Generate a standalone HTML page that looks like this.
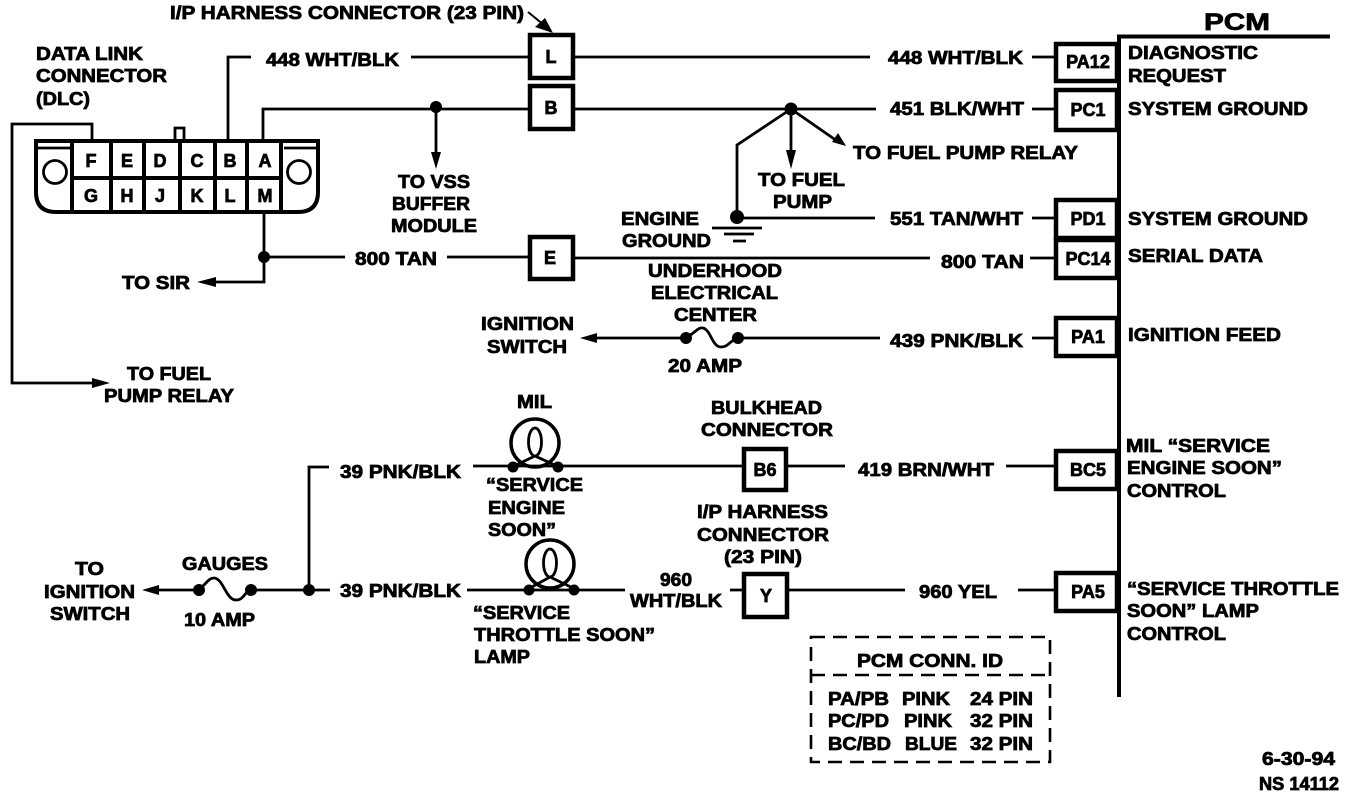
<!DOCTYPE html>
<html><head><meta charset="utf-8"><style>
html,body{margin:0;padding:0;background:#fff}
svg{display:block}
text{font-family:"Liberation Sans",sans-serif;font-weight:700;font-size:18px;fill:#000;stroke:#000;stroke-width:.75px}
.l{fill:none;stroke:#000;stroke-width:2.8}
.b{fill:none;stroke:#000;stroke-width:4}
.d{fill:#000}
</style></head><body>
<svg width="1360" height="796" viewBox="0 0 1360 796" xmlns="http://www.w3.org/2000/svg">
<rect width="1360" height="796" fill="#fff"/>
<!-- PCM bar -->
<path d="M1330 36.500H1119V697" fill="none" stroke="#000" stroke-width="4"/>
<!-- DLC -->
<path d="M36 141H318V192Q318 212 298 212H56Q36 212 36 192Z" fill="none" stroke="#000" stroke-width="4"/>
<path d="M36 148H72M284 148H318" class="l"/>
<path d="M72 141V212M111 141V212M144 141V212M180 141V212M215 141V212M247 141V212M281 141V212M72 178H281" class="b"/>
<circle cx="55" cy="172" r="11.500" class="l"/><circle cx="299" cy="172" r="11.500" class="l"/>
<path d="M175 140V128H184V140" class="l"/>
<!-- wires -->
<g class="l">
<path d="M228 140V57H251M411 57H529M574 57H870M1032 57H1056"/>
<path d="M263 140V109H529M574 109H876M1032 109H1056"/>
<path d="M436 107V160"/>
<path d="M791 109V160M791 109L840 143M791 109L737 145V217"/>
<path d="M737 218H875M1032 218H1056"/>
<path d="M712 228H762M724 234H754M733 241H746"/>
<path d="M264 212V257H345M447 257H529M574 258H930M1030 258H1056"/>
<path d="M264 257V282H205"/>
<path d="M92 140V124H12V383H95"/>
<path d="M590 338H686M686 338C696 332 698 327 703 328C711 330 712 347 721 347C729 347 730 340 738 338M738 338H880M1032 338H1056"/>
<path d="M473 466H742M786 466H845M1006 466H1056"/>
<path d="M329 467H309V590M309 590H330M309 590H251"/>
<path d="M467 590H625"/>
<path d="M730 590H743M787 590H905M1018 590H1056"/>
<path d="M152 590H198M198 590C207 584 208 578 214 578C223 578 226 600 236 600C244 600 244 592 251 590"/>
</g>
<path d="M528 12L550 30" fill="none" stroke="#000" stroke-width="2"/>
<path d="M553 33L535 27L545 18Z" fill="#000"/>
<!-- dots -->
<g class="d">
<circle cx="436" cy="107" r="6"/><circle cx="791" cy="109" r="6.500"/><circle cx="737" cy="217" r="7"/><circle cx="264" cy="257" r="6"/>
<circle cx="686" cy="338" r="6"/><circle cx="738" cy="338" r="6"/>
<circle cx="513" cy="467" r="5.500"/><circle cx="558" cy="467" r="5.500"/><circle cx="529" cy="590" r="5.500"/><circle cx="574" cy="590" r="5.500"/>
<circle cx="309" cy="590" r="6"/><circle cx="199" cy="590" r="6"/><circle cx="251" cy="590" r="6"/>
<!-- arrowheads -->
<path d="M431 152H441L436 169Z"/><path d="M786 150H796L791 169Z"/><path d="M832 142L838 133L846 146Z"/>
<path d="M197 282L216 277V287Z"/><path d="M110 383L92 378V388Z"/><path d="M580 338L597 333V343Z"/><path d="M142 590L159 585V595Z"/>
</g>
<!-- lamps -->
<g class="l">
<circle cx="535" cy="443" r="24" stroke-width="3.500"/><ellipse cx="535" cy="442" rx="6.500" ry="14"/><path d="M535 456L514 466M535 456L557 466"/>
<circle cx="550" cy="564" r="24" stroke-width="3.500"/><ellipse cx="550" cy="563" rx="6.500" ry="14"/><path d="M550 577L530 588M550 577L573 588"/>
</g>
<!-- boxes -->
<g fill="#fff" stroke="#000" stroke-width="4.500">
<rect x="530" y="35" width="43" height="43"/><rect x="530" y="86" width="43" height="43"/><rect x="530" y="237" width="43" height="42"/>
<rect x="1056" y="44" width="61" height="37"/><rect x="1056" y="90" width="61" height="40"/><rect x="1056" y="200" width="61" height="38"/><rect x="1056" y="240" width="61" height="38"/><rect x="1056" y="318" width="61" height="38"/><rect x="1056" y="451" width="61" height="38"/><rect x="1056" y="573" width="61" height="38"/>
<rect x="744" y="449" width="42" height="41"/><rect x="744" y="574" width="43" height="43"/>
</g>
<!-- dashed box -->
<path d="M811 637H1050V762H811ZM811 675H1050" fill="none" stroke="#000" stroke-width="2.600" stroke-dasharray="14 8"/>
<!-- text -->
<g>
<text x="170" y="19" textLength="354" lengthAdjust="spacingAndGlyphs">I/P HARNESS CONNECTOR (23 PIN)</text>
<text x="1204" y="30" textLength="66" lengthAdjust="spacingAndGlyphs" style="font-size:24px">PCM</text>
<text x="36" y="60" textLength="107" lengthAdjust="spacingAndGlyphs">DATA LINK</text>
<text x="36" y="82" textLength="131" lengthAdjust="spacingAndGlyphs">CONNECTOR</text>
<text x="36" y="105" textLength="54" lengthAdjust="spacingAndGlyphs">(DLC)</text>
<text x="266" y="66" textLength="133" lengthAdjust="spacingAndGlyphs">448 WHT/BLK</text>
<text x="888" y="64" textLength="135" lengthAdjust="spacingAndGlyphs">448 WHT/BLK</text>
<text x="1128" y="59" textLength="130" lengthAdjust="spacingAndGlyphs">DIAGNOSTIC</text>
<text x="1128" y="82" textLength="98" lengthAdjust="spacingAndGlyphs">REQUEST</text>
<text x="890" y="115" textLength="134" lengthAdjust="spacingAndGlyphs">451 BLK/WHT</text>
<text x="1128" y="115" textLength="180" lengthAdjust="spacingAndGlyphs">SYSTEM GROUND</text>
<text x="853" y="159" textLength="225" lengthAdjust="spacingAndGlyphs">TO FUEL PUMP RELAY</text>
<text x="758" y="186" textLength="87" lengthAdjust="spacingAndGlyphs">TO FUEL</text>
<text x="773" y="208" textLength="59" lengthAdjust="spacingAndGlyphs">PUMP</text>
<text x="398" y="188" textLength="72" lengthAdjust="spacingAndGlyphs">TO VSS</text>
<text x="392" y="210" textLength="78" lengthAdjust="spacingAndGlyphs">BUFFER</text>
<text x="391" y="232" textLength="86" lengthAdjust="spacingAndGlyphs">MODULE</text>
<text x="621" y="225" textLength="78" lengthAdjust="spacingAndGlyphs">ENGINE</text>
<text x="622" y="247" textLength="89" lengthAdjust="spacingAndGlyphs">GROUND</text>
<text x="890" y="225" textLength="133" lengthAdjust="spacingAndGlyphs">551 TAN/WHT</text>
<text x="1128" y="225" textLength="180" lengthAdjust="spacingAndGlyphs">SYSTEM GROUND</text>
<text x="355" y="265" textLength="82" lengthAdjust="spacingAndGlyphs">800 TAN</text>
<text x="941" y="268" textLength="83" lengthAdjust="spacingAndGlyphs">800 TAN</text>
<text x="1128" y="262" textLength="135" lengthAdjust="spacingAndGlyphs">SERIAL DATA</text>
<text x="122" y="289" textLength="68" lengthAdjust="spacingAndGlyphs">TO SIR</text>
<text x="648" y="277" textLength="134" lengthAdjust="spacingAndGlyphs">UNDERHOOD</text>
<text x="651" y="299" textLength="127" lengthAdjust="spacingAndGlyphs">ELECTRICAL</text>
<text x="674" y="321" textLength="83" lengthAdjust="spacingAndGlyphs">CENTER</text>
<text x="481" y="330" textLength="93" lengthAdjust="spacingAndGlyphs">IGNITION</text>
<text x="487" y="353" textLength="80" lengthAdjust="spacingAndGlyphs">SWITCH</text>
<text x="668" y="372" textLength="74" lengthAdjust="spacingAndGlyphs">20 AMP</text>
<text x="890" y="347" textLength="133" lengthAdjust="spacingAndGlyphs">439 PNK/BLK</text>
<text x="1128" y="341" textLength="153" lengthAdjust="spacingAndGlyphs">IGNITION FEED</text>
<text x="127" y="380" textLength="84" lengthAdjust="spacingAndGlyphs">TO FUEL</text>
<text x="104" y="402" textLength="130" lengthAdjust="spacingAndGlyphs">PUMP RELAY</text>
<text x="517" y="408" textLength="35" lengthAdjust="spacingAndGlyphs">MIL</text>
<text x="711" y="414" textLength="111" lengthAdjust="spacingAndGlyphs">BULKHEAD</text>
<text x="701" y="436" textLength="132" lengthAdjust="spacingAndGlyphs">CONNECTOR</text>
<text x="340" y="478" textLength="121" lengthAdjust="spacingAndGlyphs">39 PNK/BLK</text>
<text x="858" y="476" textLength="136" lengthAdjust="spacingAndGlyphs">419 BRN/WHT</text>
<text x="1126" y="452" textLength="144" lengthAdjust="spacingAndGlyphs">MIL “SERVICE</text>
<text x="1127" y="474" textLength="155" lengthAdjust="spacingAndGlyphs">ENGINE SOON”</text>
<text x="1127" y="497" textLength="99" lengthAdjust="spacingAndGlyphs">CONTROL</text>
<text x="486" y="491" textLength="97" lengthAdjust="spacingAndGlyphs">“SERVICE</text>
<text x="488" y="514" textLength="77" lengthAdjust="spacingAndGlyphs">ENGINE</text>
<text x="488" y="536" textLength="68" lengthAdjust="spacingAndGlyphs">SOON”</text>
<text x="697" y="518" textLength="131" lengthAdjust="spacingAndGlyphs">I/P HARNESS</text>
<text x="697" y="541" textLength="132" lengthAdjust="spacingAndGlyphs">CONNECTOR</text>
<text x="724" y="563" textLength="78" lengthAdjust="spacingAndGlyphs">(23 PIN)</text>
<text x="660" y="586" textLength="32" lengthAdjust="spacingAndGlyphs">960</text>
<text x="630" y="607" textLength="92" lengthAdjust="spacingAndGlyphs">WHT/BLK</text>
<text x="919" y="598" textLength="78" lengthAdjust="spacingAndGlyphs">960 YEL</text>
<text x="340" y="597" textLength="121" lengthAdjust="spacingAndGlyphs">39 PNK/BLK</text>
<text x="75" y="575" textLength="29" lengthAdjust="spacingAndGlyphs">TO</text>
<text x="44" y="598" textLength="91" lengthAdjust="spacingAndGlyphs">IGNITION</text>
<text x="50" y="620" textLength="80" lengthAdjust="spacingAndGlyphs">SWITCH</text>
<text x="182" y="570" textLength="86" lengthAdjust="spacingAndGlyphs">GAUGES</text>
<text x="184" y="626" textLength="71" lengthAdjust="spacingAndGlyphs">10 AMP</text>
<text x="473" y="619" textLength="97" lengthAdjust="spacingAndGlyphs">“SERVICE</text>
<text x="474" y="641" textLength="181" lengthAdjust="spacingAndGlyphs">THROTTLE SOON”</text>
<text x="474" y="663" textLength="56" lengthAdjust="spacingAndGlyphs">LAMP</text>
<text x="1127" y="595" textLength="212" lengthAdjust="spacingAndGlyphs">“SERVICE THROTTLE</text>
<text x="1127" y="617" textLength="132" lengthAdjust="spacingAndGlyphs">SOON” LAMP</text>
<text x="1127" y="640" textLength="99" lengthAdjust="spacingAndGlyphs">CONTROL</text>
<text x="857" y="667" textLength="146" lengthAdjust="spacingAndGlyphs">PCM CONN. ID</text>
<text x="828" y="705" textLength="61" lengthAdjust="spacingAndGlyphs">PA/PB</text><text x="902" y="705" textLength="48" lengthAdjust="spacingAndGlyphs">PINK</text><text x="970" y="705" textLength="63" lengthAdjust="spacingAndGlyphs">24 PIN</text>
<text x="828" y="727" textLength="61" lengthAdjust="spacingAndGlyphs">PC/PD</text><text x="904" y="727" textLength="48" lengthAdjust="spacingAndGlyphs">PINK</text><text x="970" y="727" textLength="63" lengthAdjust="spacingAndGlyphs">32 PIN</text>
<text x="828" y="750" textLength="63" lengthAdjust="spacingAndGlyphs">BC/BD</text><text x="905" y="750" textLength="52" lengthAdjust="spacingAndGlyphs">BLUE</text><text x="970" y="750" textLength="63" lengthAdjust="spacingAndGlyphs">32 PIN</text>
<text x="1262" y="765" textLength="73" lengthAdjust="spacingAndGlyphs">6-30-94</text>
<text x="1259" y="790" textLength="80" lengthAdjust="spacingAndGlyphs">NS 14112</text>
</g>
<!-- box labels -->
<g text-anchor="middle">
<text x="551" y="63">L</text><text x="551" y="114">B</text><text x="550" y="264">E</text>
<text x="1088" y="68">PA12</text><text x="1088" y="116">PC1</text><text x="1088" y="225">PD1</text><text x="1088" y="265">PC14</text><text x="1088" y="343">PA1</text><text x="1088" y="476">BC5</text><text x="1088" y="598">PA5</text>
<text x="765" y="476">B6</text><text x="766" y="602">Y</text>
<text x="91" y="167">F</text><text x="127" y="167">E</text><text x="160" y="167">D</text><text x="197" y="167">C</text><text x="230" y="167">B</text><text x="265" y="167">A</text>
<text x="91" y="202">G</text><text x="127" y="202">H</text><text x="160" y="202">J</text><text x="197" y="202">K</text><text x="230" y="202">L</text><text x="265" y="202">M</text>
</g>
</svg>
</body></html>
